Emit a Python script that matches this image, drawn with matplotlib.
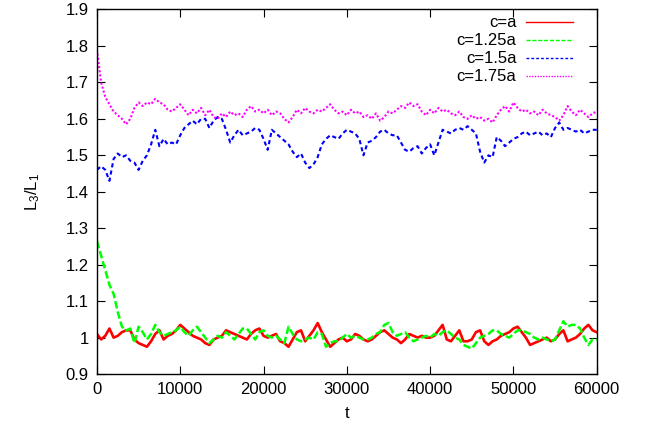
import numpy as np
import matplotlib.pyplot as plt
from matplotlib.ticker import FuncFormatter

plt.rcParams['font.family'] = ['Liberation Sans', 'DejaVu Sans']
plt.rcParams['mathtext.default'] = 'regular'

# time axis, one reading every 500 steps
t = np.arange(0, 60001, 500)

# c=a
ratio_a = [1.01, 0.995, 1.005, 1.025, 1.0, 1.005, 1.015, 1.02, 1.02, 0.995,
           0.985, 0.98, 0.975, 0.99, 1.01, 1.02, 0.995, 1.005, 1.01, 1.02,
           1.035, 1.025, 1.015, 1.005, 1.0, 0.995, 0.985, 0.98, 0.995, 1.0,
           1.005, 1.02, 1.015, 1.01, 1.005, 1.0, 0.995, 1.01, 1.02, 1.025,
           1.005, 1.0, 1.005, 1.01, 0.99, 0.985, 0.975, 0.995, 1.015, 1.02,
           0.99, 1.005, 1.02, 1.04, 1.015, 0.995, 0.975, 0.985, 0.995, 1.0,
           0.99, 0.995, 1.01, 1.005, 0.995, 0.99, 0.995, 1.005, 1.015, 1.02,
           1.01, 1.0, 0.995, 0.985, 0.995, 1.01, 1.005, 1.0, 1.005, 1.0,
           1.0, 1.005, 1.02, 1.035, 0.995, 0.99, 1.005, 1.02, 0.99, 0.99,
           0.995, 1.015, 1.02, 0.99, 0.98, 0.99, 0.995, 1.005, 1.01, 1.015,
           1.025, 1.03, 1.015, 1.0, 0.98, 0.985, 0.99, 0.995, 1.0, 0.99,
           0.995, 1.01, 1.02, 0.99, 0.995, 1.0, 1.01, 1.025, 1.035, 1.02,
           1.015]
# c=1.25a
ratio_125 = [1.265, 1.225, 1.185, 1.145, 1.12, 1.07, 1.03, 1.02, 1.025, 0.985,
             1.03, 1.015, 0.995, 1.01, 1.035, 1.015, 1.005, 1.01, 1.015, 1.02,
             1.03, 1.015, 1.005, 1.02, 1.03, 1.015, 1.0, 0.985, 0.995, 1.005,
             1.0, 1.015, 1.005, 0.995, 1.01, 1.025, 1.025, 1.01, 0.995, 1.015,
             1.02, 1.005, 1.0, 1.005, 0.995, 0.985, 1.03, 1.01, 0.995, 0.99,
             0.995, 1.0, 0.995, 1.015, 1.01, 0.975, 0.985, 0.99, 0.99, 1.0,
             1.01, 1.0, 1.005, 1.0, 0.995, 0.995, 1.0, 1.01, 1.015, 1.035,
             1.04, 1.015, 1.005, 1.01, 1.015, 1.0, 0.99, 0.995, 1.0, 1.005,
             1.0, 1.01, 1.005, 1.015, 1.02, 1.01, 1.0, 0.995, 0.98, 0.975,
             0.97, 0.985, 1.0, 1.005, 1.01, 1.02, 1.02, 1.01, 1.005, 1.0,
             1.01, 1.02, 1.02, 1.015, 1.01, 1.0, 0.995, 1.0, 0.995, 0.99,
             0.995, 1.02, 1.045, 1.03, 1.035, 1.035, 1.025, 1.0, 0.98, 0.995,
             0.995]
# c=1.5a
ratio_15 = [1.46, 1.47, 1.46, 1.43, 1.49, 1.505, 1.495, 1.5, 1.485, 1.48,
            1.46, 1.485, 1.5, 1.53, 1.57, 1.525, 1.545, 1.53, 1.535, 1.53,
            1.555, 1.575, 1.585, 1.595, 1.585, 1.6, 1.6, 1.575, 1.595, 1.605,
            1.6, 1.57, 1.535, 1.555, 1.57, 1.555, 1.56, 1.565, 1.575, 1.57,
            1.545, 1.515, 1.57, 1.56, 1.55, 1.54, 1.53, 1.51, 1.495, 1.505,
            1.48, 1.465, 1.475, 1.495, 1.53, 1.545, 1.555, 1.55, 1.545, 1.56,
            1.57, 1.565, 1.56, 1.545, 1.5, 1.535, 1.54, 1.55, 1.565, 1.57,
            1.56, 1.555, 1.555, 1.535, 1.515, 1.51, 1.52, 1.525, 1.505, 1.52,
            1.53, 1.5, 1.535, 1.57, 1.565, 1.56, 1.57, 1.575, 1.57, 1.58,
            1.57, 1.56, 1.51, 1.48, 1.5, 1.495, 1.55, 1.54, 1.525, 1.535,
            1.545, 1.55, 1.56, 1.565, 1.555, 1.56, 1.565, 1.555, 1.56, 1.55,
            1.575, 1.59, 1.57, 1.575, 1.57, 1.565, 1.57, 1.56, 1.565, 1.57,
            1.57]
# c=1.75a
ratio_175 = [1.79, 1.7, 1.66, 1.64, 1.62, 1.61, 1.6, 1.585, 1.6, 1.63,
             1.645, 1.635, 1.645, 1.64, 1.655, 1.645, 1.64, 1.625, 1.62, 1.63,
             1.64, 1.625, 1.61, 1.625, 1.615, 1.63, 1.61, 1.625, 1.605, 1.6,
             1.615, 1.605, 1.62, 1.61, 1.615, 1.605, 1.625, 1.635, 1.62, 1.625,
             1.615, 1.625, 1.61, 1.62, 1.615, 1.6, 1.59, 1.605, 1.625, 1.615,
             1.63, 1.62, 1.615, 1.625, 1.62, 1.63, 1.64, 1.625, 1.615, 1.62,
             1.61, 1.625, 1.615, 1.62, 1.605, 1.61, 1.6, 1.615, 1.595, 1.605,
             1.62, 1.615, 1.625, 1.635, 1.63, 1.645, 1.635, 1.64, 1.62, 1.61,
             1.625, 1.615, 1.63, 1.62, 1.625, 1.615, 1.61, 1.62, 1.605, 1.6,
             1.61, 1.6, 1.605, 1.595, 1.6, 1.59, 1.61, 1.625, 1.635, 1.62,
             1.645, 1.63, 1.62, 1.625, 1.615, 1.62, 1.61, 1.625, 1.615, 1.61,
             1.605, 1.595, 1.61, 1.635, 1.62, 1.61, 1.625, 1.615, 1.605, 1.615,
             1.62]

fig = plt.figure(figsize=(6.55, 4.3), dpi=100)
ax = fig.add_axes([0.148, 0.130, 0.763, 0.848])

ax.plot(t, ratio_a, color='#ff0000', lw=1.9, label='c=a')
ax.plot(t, ratio_125, color='#00ff00', lw=1.8, dashes=(3, 1.2), label='c=1.25a')
ax.plot(t, ratio_15, color='#0000ff', lw=1.5, dashes=(2, 1.5), label='c=1.5a')
ax.plot(t, ratio_175, color='#ff00ff', lw=1.5, dashes=(1, 1), label='c=1.75a')

ax.set_xlim(0, 60000)
ax.set_ylim(0.9, 1.9)
ax.set_xticks(np.arange(0, 60001, 10000))
ax.set_yticks(np.arange(0.9, 1.91, 0.1))
ax.yaxis.set_major_formatter(FuncFormatter(lambda v, p: '%g' % round(v, 2)))
ax.tick_params(direction='in', top=True, right=True, length=6, labelsize=12, pad=6)
for s in ax.spines.values():
    s.set_linewidth(1.0)

ax.set_xlabel('t', fontsize=12, labelpad=6)
ax.set_ylabel('L$_3$/L$_1$', fontsize=12, labelpad=17)

leg = ax.legend(loc='upper right', bbox_to_anchor=(0.966, 1.002), frameon=False,
                markerfirst=False, fontsize=12, handlelength=2.8, labelspacing=0.18,
                borderaxespad=0.0, handletextpad=0.6)
for ln in leg.get_lines():
    ln.set_linewidth(1.0)

plt.savefig('out.png', dpi=100)
